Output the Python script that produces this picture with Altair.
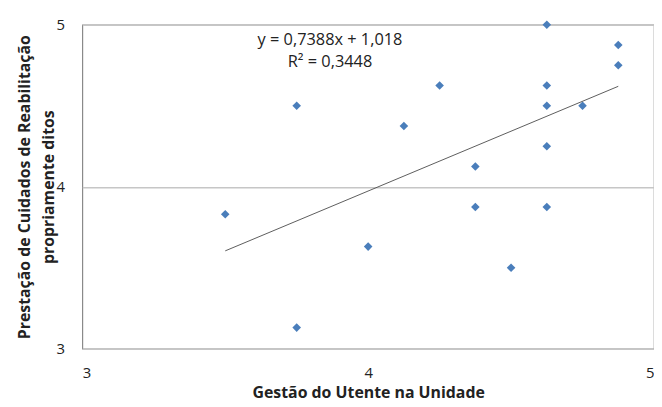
import altair as alt
import pandas as pd

# Data
gestao = [3.5, 3.75, 3.75, 4.0, 4.125, 4.25, 4.375, 4.375, 4.5,
          4.625, 4.625, 4.625, 4.625, 4.625, 4.75, 4.875, 4.875]
prestacao = [3.83, 4.5, 3.13, 3.63, 4.375, 4.625, 4.125, 3.875, 3.5,
             5.0, 4.625, 4.5, 4.25, 3.875, 4.5, 4.875, 4.75]

slope = 0.7388
intercept = 1.018
eq_lines = ["y = 0,7388x + 1,018", "R² = 0,3448"]
ticks = [3.0, 4.0, 5.0]

pts = pd.DataFrame({"x": gestao, "y": prestacao})
xmin, xmax = min(gestao), max(gestao)
trend = pd.DataFrame({"x": [xmin, xmax],
                      "y": [slope * xmin + intercept, slope * xmax + intercept]})
eq = pd.DataFrame({"t": ["\n".join(eq_lines)]})

FONT = "Open Sans"

xs = alt.Scale(domain=[3, 5], nice=False, zero=False)
ys = alt.Scale(domain=[3, 5], nice=False, zero=False)

xax = alt.Axis(values=ticks, grid=False, ticks=False, domain=False,
               labelFontSize=15, labelColor="#222", labelPadding=17,
               labelFont=FONT, format=".0f",
               title="Gestão do Utente na Unidade",
               titleFont=FONT, titleFontSize=16, titleFontWeight="bold",
               titleColor="#222", titlePadding=4, labelOverlap=False)
yax = alt.Axis(values=ticks, grid=True, gridColor="#c6c6c6", gridWidth=1.5,
               ticks=False, domain=False,
               labelFontSize=15, labelColor="#222", labelPadding=18,
               labelFont=FONT, labelOverlap=False, format=".0f",
               title=["Prestação de Cuidados de Reabilitação", "propriamente ditos"],
               titleFont=FONT, titleFontSize=16, titleFontWeight="bold",
               titleColor="#222", titleX=-50, titleLineHeight=24)

points = alt.Chart(pts).mark_point(shape="diamond", filled=True, size=75,
                                   color="#4a7ebb", opacity=1).encode(
    x=alt.X("x:Q", scale=xs, axis=xax),
    y=alt.Y("y:Q", scale=ys, axis=yax),
)

line = alt.Chart(trend).mark_line(color="#4a4a4a", strokeWidth=0.9).encode(
    x=alt.X("x:Q", scale=xs, axis=xax),
    y=alt.Y("y:Q", scale=ys, axis=yax),
)

text = alt.Chart(eq).mark_text(font=FONT, fontSize=16.5, color="#222",
                               baseline="middle", align="center",
                               lineBreak="\n", lineHeight=23).encode(
    x=alt.value(250),
    y=alt.value(15),
    text="t:N",
)

chart = alt.layer(points, line, text).properties(
    width=577, height=327,
    autosize=alt.AutoSizeParams(type="none"),
    padding={"left": 75, "top": 15, "right": 0, "bottom": 55},
    background="white",
).configure_view(stroke="#8a8a8a", strokeWidth=1.2)

chart.save("out.html", embed_options={"renderer": "svg", "actions": False})
